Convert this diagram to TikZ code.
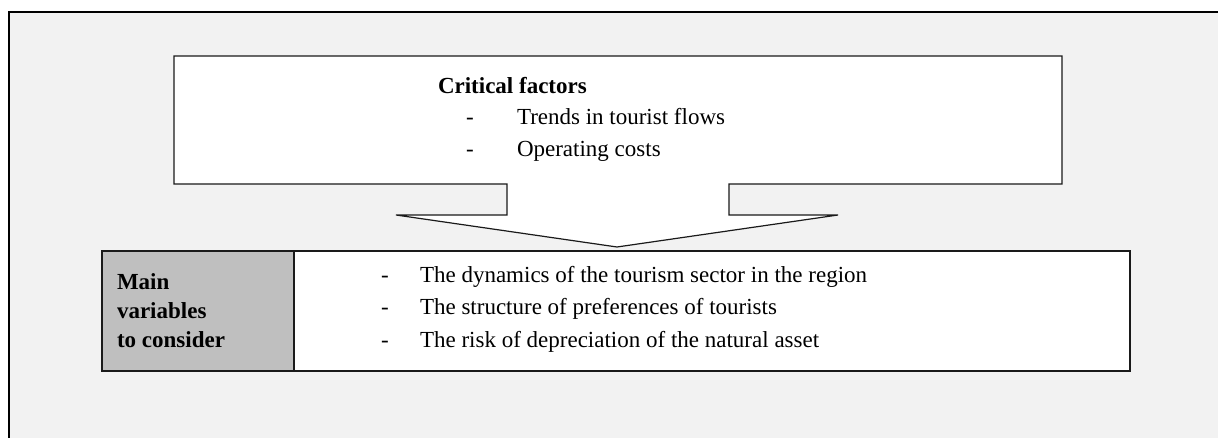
\documentclass[tikz,border=0pt]{standalone}
\usepackage{fontspec}
\setmainfont{Liberation Serif}
\definecolor{bgcol}{HTML}{F2F2F2}
\definecolor{cellgray}{HTML}{BFBFBF}
\definecolor{linecol}{HTML}{1A1A1A}
\tikzset{
  txt/.style={anchor=base west,inner sep=0pt,outer sep=0pt,font=\fontsize{23}{28}\selectfont},
  btxt/.style={txt,font=\fontsize{23}{28}\selectfont\bfseries},
  cell/.style={draw=linecol,line width=1.5pt,inner sep=0pt,minimum height=120pt},
  callout/.style={draw=linecol,line width=1.2pt,fill=white,line join=miter},
  frameline/.style={draw=black,line width=2pt}
}
\begin{document}
\begin{tikzpicture}[x=1pt,y=-1pt]
\useasboundingbox (0,0) rectangle (1218,438);
\fill[white] (0,0) rectangle (1218,438);
\fill[bgcol] (9,12) rectangle (1219,439);
\draw[frameline] (9,439) -- (9,12) -- (1219,12);
% callout arrow
\draw[callout] (174,56) -- (1062,56) -- (1062,184) -- (729,184) -- (729,215)
  -- (838,215) -- (617,247) -- (396,215) -- (507,215) -- (507,184) -- (174,184) -- cycle;
\node[btxt] (crit) at (438,94) {Critical factors};
\node[txt] (d1) at (466,125) {-};
\node[txt] (t1) at (517,125) {Trends in tourist flows};
\node[txt] (d2) at (466,157) {-};
\node[txt] (t2) at (517,157) {Operating costs};
% table
\node[cell,fill=cellgray,minimum width=192pt] (lab) at (198,311) {};
\node[cell,fill=white,minimum width=836pt] (vals) at (712,311) {};
\node[btxt] (m1) at (117,290) {Main};
\node[btxt] (m2) at (117,319) {variables};
\node[btxt] (m3) at (117,347) {to consider};
\node[txt] (e1) at (381,283) {-};
\node[txt] (v1) at (420,283) {The dynamics of the tourism sector in the region};
\node[txt] (e2) at (381,315) {-};
\node[txt] (v2) at (420,315) {The structure of preferences of tourists};
\node[txt] (e3) at (381,347) {-};
\node[txt] (v3) at (420,347) {The risk of depreciation of the natural asset};
\end{tikzpicture}
\end{document}
